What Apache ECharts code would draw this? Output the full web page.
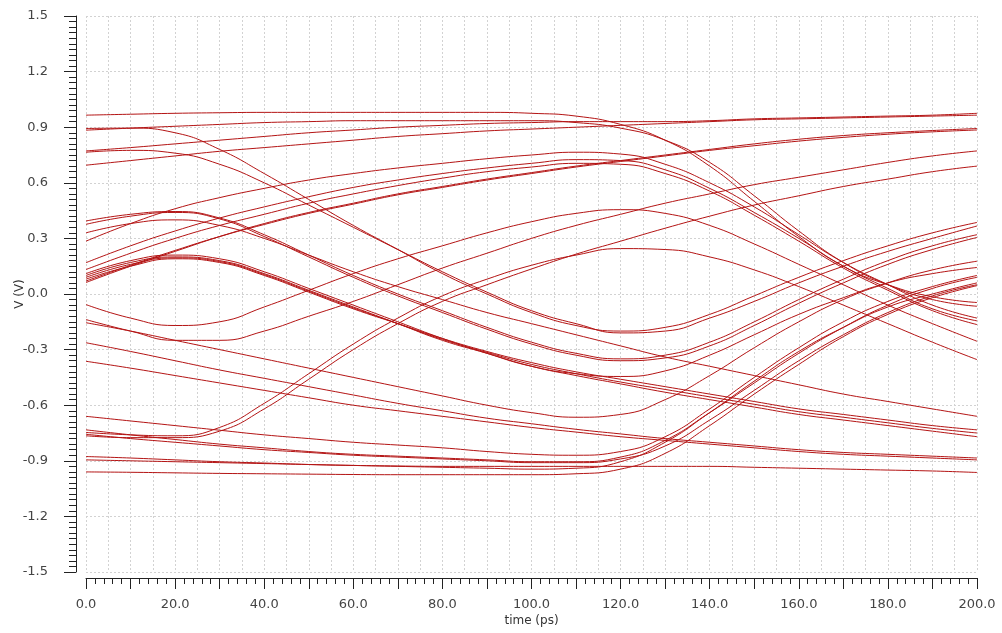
<!DOCTYPE html>
<html>
<head>
<meta charset="utf-8">
<script src="https://cdn.jsdelivr.net/npm/echarts@6/dist/echarts.min.js"></script>
<style>
html,body{margin:0;padding:0;background:#fff;}
#chart{width:1002px;height:633px;}
</style>
</head>
<body>
<div id="chart"></div>
<script>
// time samples (ps)
const time = [0,10,20,30,40,50,60,70,80,90,100,110,120,130,140,150,160,170,180,190,200];
// y-axis ticks (V)
const yTicks = [-1.5,-1.2,-0.9,-0.6,-0.3,0.0,0.3,0.6,0.9,1.2,1.5];
// x-axis labels (ps)
const xLabels = [0,20,40,60,80,100,120,140,160,180,200];

// traces (V), one value per time sample
const tr01 = [0.965,0.97,0.975,0.978,0.98,0.98,0.98,0.98,0.98,0.98,0.975,0.96,0.915,0.83,0.69,0.5,0.31,0.15,0.05,-0.015,-0.046];
const tr02 = [0.884,0.895,0.905,0.915,0.925,0.93,0.935,0.935,0.935,0.935,0.935,0.925,0.895,0.83,0.71,0.53,0.34,0.17,0.05,-0.03,-0.066];
const tr03 = [0.772,0.79,0.81,0.83,0.85,0.87,0.885,0.9,0.91,0.92,0.925,0.93,0.93,0.93,0.935,0.945,0.95,0.955,0.96,0.965,0.975];
const tr04 = [0.695,0.72,0.745,0.77,0.79,0.81,0.83,0.85,0.865,0.88,0.89,0.9,0.91,0.92,0.93,0.94,0.945,0.95,0.955,0.96,0.965];
const tr05 = [0.893,0.895,0.87,0.78,0.65,0.51,0.37,0.24,0.11,0.0,-0.1,-0.17,-0.2,-0.18,-0.11,-0.01,0.09,0.18,0.26,0.33,0.386];
const tr06 = [0.765,0.775,0.76,0.7,0.6,0.48,0.36,0.24,0.12,0.01,-0.09,-0.16,-0.21,-0.2,-0.13,-0.04,0.06,0.15,0.23,0.3,0.367];
const tr07 = [0.394,0.43,0.445,0.41,0.32,0.21,0.1,0.0,-0.09,-0.18,-0.26,-0.32,-0.35,-0.33,-0.26,-0.15,-0.03,0.08,0.18,0.26,0.32];
const tr08 = [0.376,0.42,0.44,0.405,0.31,0.2,0.09,-0.01,-0.1,-0.19,-0.27,-0.33,-0.36,-0.345,-0.28,-0.17,-0.05,0.06,0.16,0.24,0.305];
const tr09 = [0.33,0.38,0.4,0.37,0.3,0.21,0.12,0.04,-0.03,-0.1,-0.16,-0.22,-0.28,-0.34,-0.39,-0.44,-0.49,-0.54,-0.58,-0.62,-0.66];
const tr10 = [0.285,0.38,0.46,0.52,0.57,0.615,0.65,0.68,0.705,0.73,0.75,0.765,0.755,0.7,0.6,0.47,0.32,0.17,0.05,-0.06,-0.13];
const tr11 = [0.169,0.26,0.34,0.41,0.47,0.525,0.575,0.615,0.65,0.68,0.705,0.725,0.72,0.67,0.57,0.44,0.3,0.15,0.03,-0.08,-0.145];
const tr12 = [0.132,0.22,0.3,0.37,0.43,0.49,0.54,0.585,0.625,0.66,0.685,0.705,0.7,0.65,0.555,0.425,0.285,0.14,0.02,-0.09,-0.165];
const tr13 = [0.062,0.15,0.23,0.31,0.38,0.44,0.49,0.54,0.58,0.62,0.655,0.69,0.72,0.75,0.78,0.81,0.835,0.855,0.87,0.882,0.893];
const tr14 = [0.07,0.155,0.235,0.31,0.375,0.435,0.485,0.535,0.575,0.615,0.65,0.685,0.715,0.745,0.775,0.8,0.825,0.845,0.862,0.875,0.885];
const tr15 = [0.08,0.15,0.19,0.17,0.1,0.01,-0.08,-0.16,-0.24,-0.31,-0.37,-0.42,-0.46,-0.5,-0.54,-0.58,-0.62,-0.65,-0.68,-0.71,-0.733];
const tr16 = [0.09,0.16,0.195,0.175,0.105,0.015,-0.075,-0.16,-0.245,-0.315,-0.38,-0.43,-0.475,-0.515,-0.555,-0.595,-0.635,-0.665,-0.695,-0.725,-0.75];
const tr17 = [0.1,0.17,0.2,0.18,0.11,0.02,-0.07,-0.16,-0.25,-0.32,-0.39,-0.44,-0.485,-0.53,-0.57,-0.61,-0.65,-0.68,-0.71,-0.74,-0.77];
const tr18 = [0.11,0.18,0.21,0.19,0.12,0.03,-0.06,-0.15,-0.24,-0.32,-0.39,-0.43,-0.445,-0.415,-0.33,-0.22,-0.11,-0.02,0.06,0.11,0.143];
const tr19 = [-0.057,-0.13,-0.17,-0.15,-0.07,0.02,0.11,0.19,0.26,0.33,0.39,0.435,0.455,0.435,0.37,0.27,0.16,0.05,-0.06,-0.16,-0.255];
const tr20 = [-0.138,-0.2,-0.25,-0.25,-0.2,-0.12,-0.04,0.05,0.14,0.22,0.3,0.37,0.43,0.49,0.54,0.59,0.63,0.67,0.71,0.745,0.772];
const tr21 = [-0.747,-0.76,-0.765,-0.72,-0.59,-0.43,-0.27,-0.13,-0.01,0.08,0.155,0.21,0.245,0.24,0.2,0.13,0.04,-0.06,-0.16,-0.26,-0.354];
const tr22 = [-0.765,-0.775,-0.775,-0.74,-0.62,-0.46,-0.3,-0.16,-0.04,0.05,0.135,0.215,0.285,0.355,0.42,0.48,0.53,0.58,0.62,0.66,0.69];
const tr23 = [-0.155,-0.2,-0.25,-0.3,-0.35,-0.4,-0.45,-0.5,-0.55,-0.6,-0.64,-0.665,-0.65,-0.57,-0.44,-0.29,-0.15,-0.03,0.06,0.13,0.177];
const tr24 = [-0.263,-0.31,-0.36,-0.41,-0.455,-0.5,-0.545,-0.59,-0.63,-0.67,-0.7,-0.73,-0.755,-0.78,-0.8,-0.82,-0.84,-0.855,-0.865,-0.875,-0.885];
const tr25 = [-0.363,-0.4,-0.44,-0.48,-0.52,-0.56,-0.6,-0.63,-0.66,-0.69,-0.72,-0.745,-0.77,-0.79,-0.81,-0.83,-0.85,-0.865,-0.875,-0.885,-0.895];
const tr26 = [-0.66,-0.685,-0.71,-0.735,-0.76,-0.78,-0.8,-0.815,-0.83,-0.85,-0.865,-0.87,-0.85,-0.77,-0.62,-0.45,-0.29,-0.15,-0.04,0.04,0.1];
const tr27 = [-0.733,-0.76,-0.785,-0.81,-0.83,-0.85,-0.865,-0.875,-0.885,-0.895,-0.905,-0.905,-0.88,-0.79,-0.64,-0.48,-0.32,-0.18,-0.06,0.03,0.09];
const tr28 = [-0.757,-0.78,-0.8,-0.82,-0.84,-0.855,-0.87,-0.88,-0.89,-0.9,-0.91,-0.91,-0.89,-0.82,-0.68,-0.52,-0.36,-0.22,-0.1,-0.01,0.05];
const tr29 = [-0.877,-0.885,-0.895,-0.905,-0.912,-0.92,-0.925,-0.93,-0.935,-0.94,-0.945,-0.94,-0.905,-0.8,-0.64,-0.47,-0.31,-0.18,-0.07,0.0,0.06];
const tr30 = [-0.895,-0.9,-0.905,-0.91,-0.915,-0.92,-0.925,-0.928,-0.93,-0.93,-0.93,-0.93,-0.93,-0.93,-0.93,-0.935,-0.94,-0.945,-0.95,-0.955,-0.963];
const tr31 = [-0.96,-0.962,-0.965,-0.968,-0.97,-0.972,-0.974,-0.975,-0.975,-0.975,-0.975,-0.97,-0.945,-0.86,-0.71,-0.54,-0.38,-0.23,-0.11,-0.02,0.045];

const traces = [tr01,tr02,tr03,tr04,tr05,tr06,tr07,tr08,tr09,tr10,tr11,tr12,tr13,tr14,tr15,tr16,
                tr17,tr18,tr19,tr20,tr21,tr22,tr23,tr24,tr25,tr26,tr27,tr28,tr29,tr30,tr31];

const FONT = 'DejaVu Sans';
const chart = echarts.init(document.getElementById('chart'), null, {renderer: 'canvas'});

const series = traces.map((vals, i) => ({
  name: 'v' + (i + 1),
  type: 'line',
  xAxisIndex: 0,
  yAxisIndex: 0,
  data: time.map((t, k) => [t, vals[k]]),
  smooth: 0.5,
  showSymbol: false,
  symbol: 'none',
  silent: true,
  lineStyle: {color: '#b41414', width: 1},
  z: 3
}));

const option = {
  animation: false,
  backgroundColor: '#ffffff',
  grid: {left: 86, right: 25, top: 16, bottom: 61, containLabel: false, outerBoundsMode: 'none'},
  xAxis: [
    {
      type: 'value', min: 0, max: 200, interval: 10, position: 'bottom', offset: 6,
      name: 'time (ps)', nameLocation: 'middle', nameGap: 37, nameMoveOverlap: false,
      nameTextStyle: {fontFamily: FONT, fontSize: 12, color: '#333'},
      axisLine: {show: true, onZero: false, lineStyle: {color: '#222', width: 1}},
      axisTick: {show: true, length: 11, lineStyle: {color: '#222'}},
      minorTick: {show: true, splitNumber: 5, length: 6, lineStyle: {color: '#222'}},
      axisLabel: {
        margin: 20, fontFamily: FONT, fontSize: 13, color: '#444',
        formatter: v => (xLabels.indexOf(v) >= 0 ? v.toFixed(1) : '')
      },
      splitLine: {show: false}
    },
    {
      type: 'value', min: 0, max: 200, interval: 5, position: 'bottom',
      axisLine: {show: false}, axisTick: {show: false}, axisLabel: {show: false},
      splitLine: {show: true, lineStyle: {color: '#d2d2d2', type: [2, 2], width: 1}}
    }
  ],
  yAxis: [
    {
      type: 'value', min: -1.5, max: 1.5, interval: 0.3, position: 'left', offset: 10,
      name: 'V (V)', nameLocation: 'middle', nameGap: 50, nameRotate: 90, nameMoveOverlap: false,
      nameTextStyle: {fontFamily: FONT, fontSize: 12, color: '#333'},
      axisLine: {show: true, onZero: false, lineStyle: {color: '#222', width: 1}},
      axisTick: {show: true, length: 12, lineStyle: {color: '#222'}},
      minorTick: {show: true, splitNumber: 10, length: 7, lineStyle: {color: '#222'}},
      axisLabel: {
        margin: 28, fontFamily: FONT, fontSize: 13, color: '#444',
        formatter: v => {
          const r = Math.round(v * 10) / 10;
          return yTicks.indexOf(r) >= 0 ? r.toFixed(1) : '';
        }
      },
      splitLine: {show: true, lineStyle: {color: '#d2d2d2', type: [2, 2], width: 1}}
    }
  ],
  series: series
};
chart.setOption(option);
</script>
</body>
</html>
